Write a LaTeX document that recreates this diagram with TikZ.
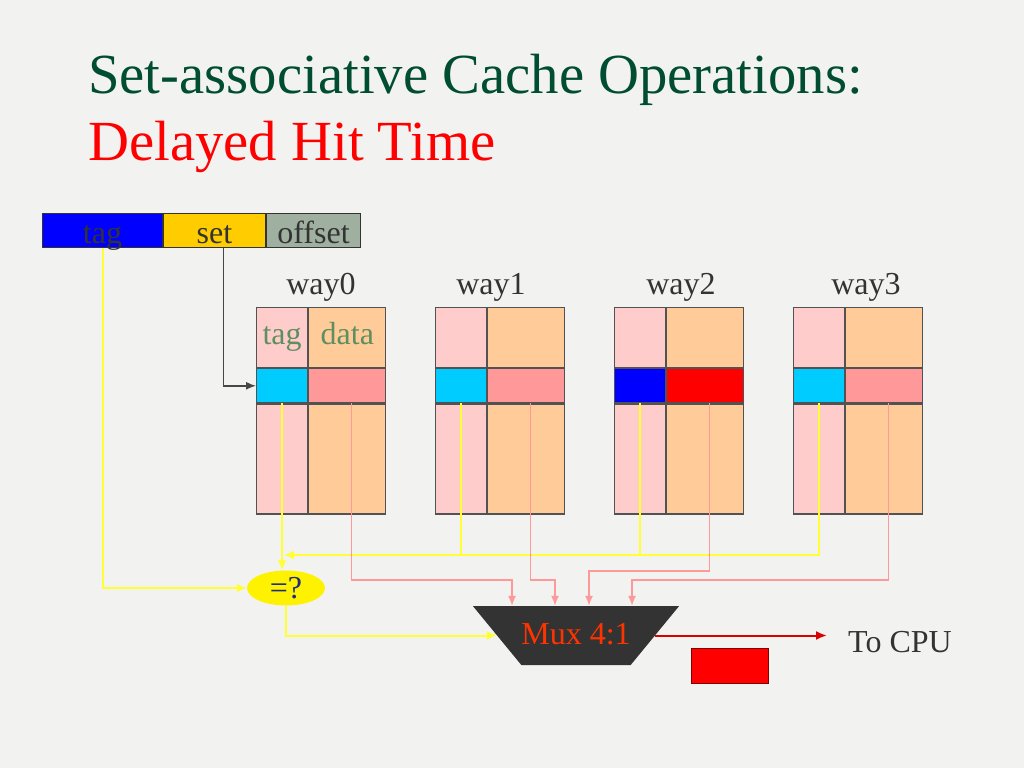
\documentclass[tikz,border=0pt]{standalone}
\usepackage{fontspec}
\setmainfont{Liberation Serif}
\usepackage{tikz}
\usetikzlibrary{arrows.meta,calc,positioning,shapes.geometric}
\definecolor{slideBg}{HTML}{F2F3F1}
\definecolor{titleGreen}{HTML}{004D33}
\definecolor{fieldTag}{HTML}{0000FF}
\definecolor{fieldSet}{HTML}{FFCC00}
\definecolor{fieldOffset}{HTML}{A0B0A0}
\definecolor{inkGray}{HTML}{333333}
\definecolor{cellPink}{HTML}{FFCCCC}
\definecolor{cellPeach}{HTML}{FFCC99}
\definecolor{rowCyan}{HTML}{00CCFF}
\definecolor{rowSalmon}{HTML}{FF9999}
\definecolor{hitBlue}{HTML}{0000FF}
\definecolor{hitRed}{HTML}{FF0000}
\definecolor{wireYellow}{HTML}{FFFF33}
\definecolor{wirePink}{HTML}{FF9999}
\definecolor{labelGreen}{HTML}{5F8F5F}
\definecolor{cmpInk}{HTML}{1C2B7F}
\definecolor{muxInk}{HTML}{FF3300}
\tikzset{
  cacheTitle/.style={anchor=base west, inner sep=0pt, font=\fontsize{56.7}{67}\selectfont},
  cacheField/.style={draw=inkGray, line width=1pt, inner sep=0pt, minimum height=34pt, text height=30pt, text depth=4pt, font=\fontsize{32}{36}\selectfont, text=inkGray},
  cacheCell/.style={draw=inkGray!85, line width=1.2pt, inner sep=0pt, anchor=north west},
  cacheLabel/.style={inner sep=0pt, font=\fontsize{32}{36}\selectfont, text=inkGray},
  cacheHead/.style={inner sep=0pt, text height=22pt, text depth=8pt, font=\fontsize{32}{36}\selectfont, text=labelGreen},
  cacheTagWire/.style={draw=wireYellow, line width=2pt},
  cacheTagArrow/.style={cacheTagWire, -{Latex[length=10pt,width=9pt]}},
  cacheDataArrow/.style={draw=wirePink, line width=1.5pt, -{Latex[length=10pt,width=8pt]}},
  cacheSetArrow/.style={draw=inkGray!90, line width=1.4pt, -{Latex[length=10pt,width=8pt]}},
  cacheOutArrow/.style={draw=red!85!black, line width=2pt, -{Latex[length=11pt,width=9pt]}}
}
\begin{document}
\begin{tikzpicture}[
        x=1pt, y=-1pt,
        cmpShape/.style={ellipse, fill=yellow, inner sep=0pt, minimum width=78pt, minimum height=35pt, font=\fontsize{32}{36}\selectfont, text=cmpInk},
        muxShape/.style={trapezium, shape border rotate=180, trapezium angle=50.6, trapezium stretches body=true, minimum width=190pt, inner xsep=0pt, inner ysep=14.5pt, text height=24pt, text depth=6pt, fill=inkGray, font=\fontsize{32}{36}\selectfont, text=muxInk},
        outBox/.style={draw=red!50!black, line width=0.8pt, fill=red, anchor=north west, minimum width=77pt, minimum height=35pt, inner sep=0pt},
        >=Latex
      ]
      \fill[slideBg] (0,0) rectangle (1024,768);
      \node[cacheTitle, text=titleGreen] (titleA) at (88,93) {Set-associative Cache Operations:};
      \node[cacheTitle, text=red] (titleB) at (88,160) {Delayed Hit Time};

      \node[cacheField, fill=fieldTag, minimum width=120pt, anchor=north west] (tagField) at (42,213) {tag};
      \node[cacheField, fill=fieldSet, minimum width=102pt, anchor=north west] (setField) at (tagField.north east) {set};
      \node[cacheField, fill=fieldOffset, minimum width=94pt, anchor=north west] (offsetField) at (setField.north east) {offset};

      \foreach \w/\x/\lx/\tagfill/\datafill in {0/256/321/rowCyan/rowSalmon, 1/435/491/rowCyan/rowSalmon, 2/614/681/hitBlue/hitRed, 3/793/866/rowCyan/rowSalmon}{
        \node[cacheLabel, anchor=base] (wayName\w) at (\lx,294) {way\w};
        \node[cacheCell, fill=cellPink, minimum width=51pt, minimum height=60pt] (tagTop\w) at (\x,307) {};
        \node[cacheCell, fill=cellPeach, minimum width=77pt, minimum height=60pt] (dataTop\w) at (tagTop\w.north east) {};
        \node[cacheCell, fill=\tagfill, minimum width=51pt, minimum height=34pt] (rowTag\w) at (tagTop\w.south west) {};
        \node[cacheCell, fill=\datafill, minimum width=77pt, minimum height=34pt] (rowData\w) at (rowTag\w.north east) {};
        \node[cacheCell, fill=cellPink, minimum width=51pt, minimum height=110pt] (tagBot\w) at (rowTag\w.south west) {};
        \node[cacheCell, fill=cellPeach, minimum width=77pt, minimum height=110pt] (dataBot\w) at (tagBot\w.north east) {};
      }
      \node[cacheHead] (tagHead) at (tagTop0) {tag};
      \node[cacheHead] (dataHead) at (dataTop0) {data};

      \node[cmpShape] (cmp) at (286,588) {=?};
      \node[muxShape] (mux) at (576,635.5) {Mux 4:1};
      \node[cacheLabel, anchor=base west] (cpu) at (848,652) {To CPU};
      \node[outBox] (outReg) at (691,648) {};
      \coordinate (busJoin) at (284,555);
      \coordinate (muxInA) at ([xshift=-64pt]mux.north);
      \coordinate (muxInB) at ([xshift=-21pt]mux.north);
      \coordinate (muxInC) at ([xshift=13pt]mux.north);
      \coordinate (muxInD) at ([xshift=56pt]mux.north);

      \draw[cacheSetArrow] ([xshift=9pt]setField.south) |- (rowTag0.west);
      \draw[cacheTagArrow] (tagField.south) |- (cmp.west);
      \draw[cacheTagArrow] (rowTag0.south) -- (rowTag0.south |- cmp.north);
      \draw[cacheTagArrow] (rowTag3.south) |- (busJoin);
      \draw[cacheTagWire] (rowTag1.south) -- (rowTag1.south |- busJoin);
      \draw[cacheTagWire] (rowTag2.south) -- (rowTag2.south |- busJoin);
      \draw[cacheTagArrow] (cmp.south) |- (mux.west);

      \draw[cacheDataArrow] ([xshift=4pt]rowData0.south) |- ([yshift=26pt]muxInA) -- (muxInA);
      \draw[cacheDataArrow] ([xshift=4pt]rowData1.south) |- ([yshift=26pt]muxInB) -- (muxInB);
      \draw[cacheDataArrow] ([xshift=4pt]rowData2.south) |- ([yshift=35pt]muxInC) -- (muxInC);
      \draw[cacheDataArrow] ([xshift=4pt]rowData3.south) |- ([yshift=26pt]muxInD) -- (muxInD);
      \draw[cacheOutArrow] (mux.east) -- ([xshift=-21pt]mux.east -| cpu.west);
    \end{tikzpicture}
\end{document}
